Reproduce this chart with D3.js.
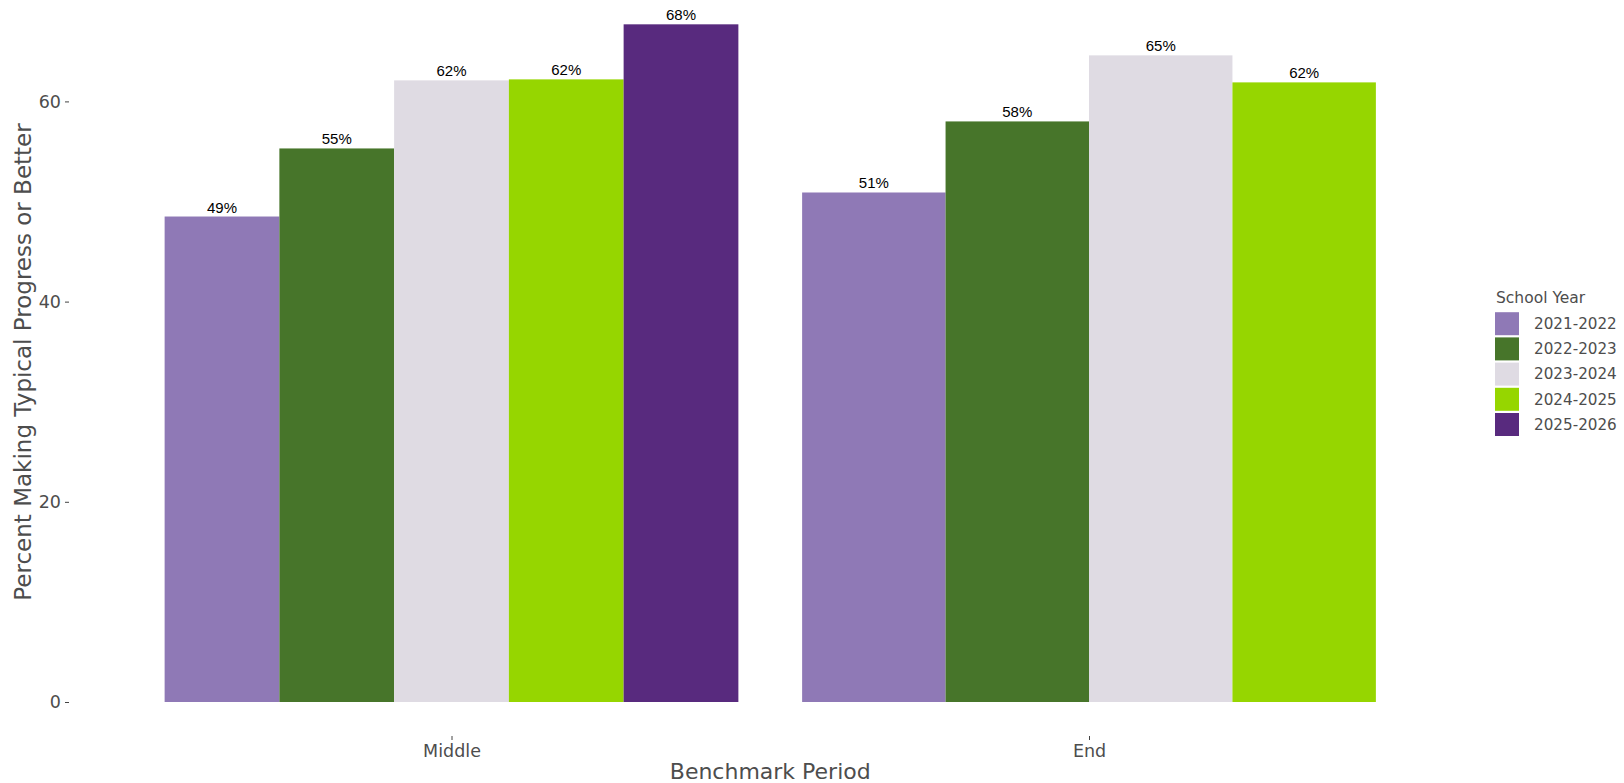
<!DOCTYPE html>
<html>
<head>
<meta charset="utf-8">
<script src="https://cdn.jsdelivr.net/npm/d3@7"></script>
<style>
  html, body { margin: 0; padding: 0; background: #ffffff; }
  svg { display: block; }
</style>
</head>
<body>
<svg id="chart" width="1624" height="783"></svg>
<script>
// ---- data ----
const periods = ["Middle", "End"];
const years = ["2021-2022", "2022-2023", "2023-2024", "2024-2025", "2025-2026"];
const middleValues = [48.5, 55.3, 62.1, 62.2, 67.7];
const endValues = [50.9, 58.0, 64.6, 61.9];
const yTicks = [0, 20, 40, 60];
const colors = ["#8f79b6", "#47752a", "#dfdbe3", "#96d600", "#582a7e"];

const seriesByPeriod = { "Middle": middleValues, "End": endValues };

// ---- layout ----
const plot = { left: 69, right: 1471.5, zeroY: 702, topY: 1.3 };
const svg = d3.select("#chart");
const FONT = "'DejaVu Sans', Verdana, sans-serif";

const x = d3.scalePoint().domain(periods).range([plot.left, plot.right]).padding(0.6);
const groupWidth = x.step() * 0.9;
const y = d3.scaleLinear().domain([0, 70]).range([plot.zeroY, plot.topY]);
const color = d3.scaleOrdinal().domain(years).range(colors);

// ---- bars ----
const g = svg.append("g");
periods.forEach(p => {
  const vals = seriesByPeriod[p];
  const ys = years.slice(0, vals.length);
  const inner = d3.scaleBand().domain(ys)
    .range([x(p) - groupWidth / 2, x(p) + groupWidth / 2]).padding(0);
  const data = ys.map((yr, i) => ({ year: yr, value: vals[i] }));
  g.selectAll(null).data(data).enter().append("rect")
    .attr("x", d => inner(d.year))
    .attr("width", inner.bandwidth())
    .attr("y", d => y(d.value))
    .attr("height", d => y(0) - y(d.value))
    .attr("fill", d => color(d.year));
  g.selectAll(null).data(data).enter().append("text")
    .attr("x", d => inner(d.year) + inner.bandwidth() / 2)
    .attr("y", d => y(d.value) - 4)
    .attr("text-anchor", "middle")
    .attr("font-family", "'Liberation Sans', Arial, sans-serif")
    .attr("font-size", 15)
    .attr("fill", "#000")
    .text(d => Math.round(d.value) + "%");
});

// ---- axes ----
const yAxis = d3.axisLeft(y).tickValues(yTicks).tickSize(4).tickPadding(4);
const yg = svg.append("g").attr("transform", `translate(${plot.left},0)`).call(yAxis);
yg.select(".domain").remove();
yg.selectAll("line").attr("stroke", "#444");
yg.selectAll("text").attr("font-family", FONT)
  .attr("font-size", 17.5).attr("fill", "#4d4d4d");

const xBottom = 736;
const xAxis = d3.axisBottom(x).tickSize(4).tickPadding(5);
const xg = svg.append("g").attr("transform", `translate(0,${xBottom})`).call(xAxis);
xg.select(".domain").remove();
xg.selectAll("line").attr("stroke", "#444");
xg.selectAll("text").attr("font-family", FONT)
  .attr("font-size", 17.5).attr("fill", "#4d4d4d");

// ---- axis titles ----
svg.append("text")
  .attr("x", (plot.left + plot.right) / 2)
  .attr("y", 779)
  .attr("text-anchor", "middle")
  .attr("font-family", FONT)
  .attr("font-size", 22)
  .attr("fill", "#4d4d4d")
  .text("Benchmark Period");

svg.append("text")
  .attr("transform", `translate(31,362) rotate(-90)`)
  .attr("text-anchor", "middle")
  .attr("font-family", FONT)
  .attr("font-size", 23)
  .attr("fill", "#4d4d4d")
  .text("Percent Making Typical Progress or Better");

// ---- legend ----
const lg = svg.append("g").attr("transform", "translate(1495,0)");
lg.append("text")
  .attr("x", 1).attr("y", 303)
  .attr("font-family", FONT)
  .attr("font-size", 15.5)
  .attr("fill", "#4d4d4d")
  .text("School Year");
const item = lg.selectAll("g.item").data(years).enter().append("g")
  .attr("class", "item")
  .attr("transform", (d, i) => `translate(0,${323.7 + i * 25.2})`);
item.append("rect")
  .attr("x", 0).attr("y", -11.5).attr("width", 24).attr("height", 23)
  .attr("fill", d => color(d));
item.append("text")
  .attr("x", 39).attr("y", 0).attr("dy", "0.35em")
  .attr("font-family", FONT)
  .attr("font-size", 15.2)
  .attr("fill", "#4d4d4d")
  .text(d => d);
</script>
</body>
</html>
